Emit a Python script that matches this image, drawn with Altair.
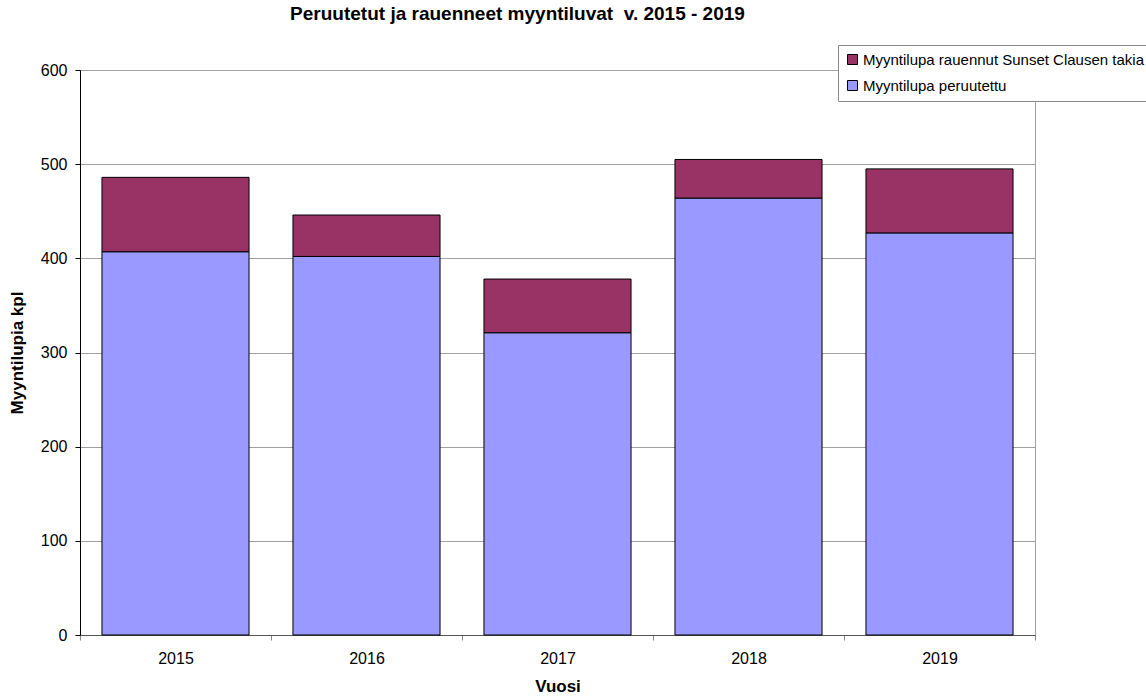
import altair as alt
import pandas as pd

years = ["2015", "2016", "2017", "2018", "2019"]
peruutettu = [407, 402, 321, 464, 427]
rauennut = [79, 44, 57, 41, 68]
series = ["Myyntilupa rauennut Sunset Clausen takia", "Myyntilupa peruutettu"]
colors = ["#993366", "#9999FF"]

rows = []
for i, y in enumerate(years):
    rows.append({"Vuosi": y, "sarja": series[1], "arvo": peruutettu[i], "jarj": 0})
    rows.append({"Vuosi": y, "sarja": series[0], "arvo": rauennut[i], "jarj": 1})
df = pd.DataFrame(rows)

FONT = "Liberation Sans"

chart = alt.Chart(df).mark_bar(
    width=alt.RelativeBandSize(0.77), stroke="black", strokeWidth=1
).encode(
    x=alt.X("Vuosi:N", sort=years, title="Vuosi",
            scale=alt.Scale(paddingInner=0, paddingOuter=0),
            axis=alt.Axis(labelAngle=0, tickBand="extent", tickSize=5,
                          tickColor="#888888", domainColor="#555555",
                          labelFontSize=16, labelColor="black", labelPadding=10,
                          titleFontSize=17, titleFontWeight="bold", titlePadding=12,
                          titleColor="black", grid=False)),
    y=alt.Y("arvo:Q", stack="zero", title="Myyntilupia kpl",
            scale=alt.Scale(domain=[0, 600]),
            axis=alt.Axis(values=[0, 100, 200, 300, 400, 500, 600], tickSize=5,
                          tickColor="black", domainColor="black",
                          gridColor="#a0a0a0", gridWidth=1,
                          labelFontSize=16, labelColor="black", labelPadding=8,
                          titleFontSize=17, titleFontWeight="bold", titlePadding=14,
                          titleColor="black")),
    color=alt.Color("sarja:N", scale=alt.Scale(domain=series, range=colors),
                    legend=alt.Legend(orient="none", legendX=758, legendY=-25,
                                      title=None, strokeColor="#888888",
                                      fillColor="white", padding=7,
                                      symbolType="square", symbolSize=100,
                                      symbolStrokeColor="black", symbolStrokeWidth=1,
                                      labelFontSize=15, labelColor="black",
                                      labelLimit=500, rowPadding=10, labelOffset=3)),
    order=alt.Order("jarj:Q"),
).properties(
    width=955, height=565,
    title=alt.TitleParams("Peruutetut ja rauenneet myyntiluvat\u00a0\u00a0v. 2015 - 2019",
                          fontSize=19, fontWeight="bold", font=FONT, color="black",
                          anchor="middle", dx=-40, offset=21),
    autosize=alt.AutoSizeParams(type="none"),
    padding={"left": 80, "top": 70, "right": 111, "bottom": 62},
).configure(font=FONT).configure_view(stroke="#a0a0a0", strokeWidth=1)

chart.save("out.html", embed_options={"renderer": "svg", "actions": False})
